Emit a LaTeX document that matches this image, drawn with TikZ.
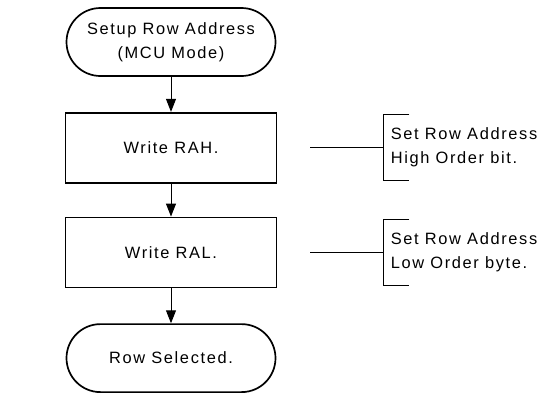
\documentclass[tikz,border=0pt]{standalone}
\usepackage{fontspec}
\setmainfont{Liberation Sans}[LetterSpace=10]
\usetikzlibrary{arrows.meta}
\usetikzlibrary{positioning}

\begin{document}
\begin{tikzpicture}[>={Triangle[length=13pt,width=10pt]}, node distance=34pt, align=center,
	line width=1pt, font=\fontsize{16.4}{24}\selectfont,
	main node/.style={rectangle, draw, line width=1.7pt, minimum width=211pt, minimum height=70pt},
	term node/.style={rectangle, rounded corners=34pt, draw, line width=1.7pt, minimum width=209pt, minimum height=68pt},
	note node/.style={rectangle, align=left, minimum height=65pt, inner xsep=7pt},
]
\useasboundingbox (0,0) rectangle (553pt,-392pt);
\node [term node] at (171pt,-42pt) (setup) {Setup Row Address\\(MCU Mode)};
\node [main node] (rah) [below=35pt of setup] {Write RAH.};
\node [main node] (ral) [below=33pt of rah] {Write RAL.};
\node [term node] (sel) [below=35pt of ral] {Row Selected.};
\node [note node] (hnote) [right=106pt of rah] {Set Row Address\\High Order bit.};
\node [note node] (lnote) [right=106pt of ral] {Set Row Address\\Low Order byte.};
\coordinate (hfrom) at ([xshift=-73pt]hnote.west);
\coordinate (lfrom) at ([xshift=-73pt]lnote.west);
%
\draw [->] (setup) -- (rah);
\draw [->] (rah) -- (ral);
\draw [->] (ral) -- (sel);
\draw (hfrom) -- (hnote.west);
\draw ([xshift=26pt]hnote.north west) -- (hnote.north west) -- (hnote.south west) -- ++(26pt, 0);
\draw (lfrom) -- (lnote.west);
\draw ([xshift=26pt]lnote.north west) -- (lnote.north west) -- (lnote.south west) -- ++(26pt, 0);
\end{tikzpicture}
\end{document}
